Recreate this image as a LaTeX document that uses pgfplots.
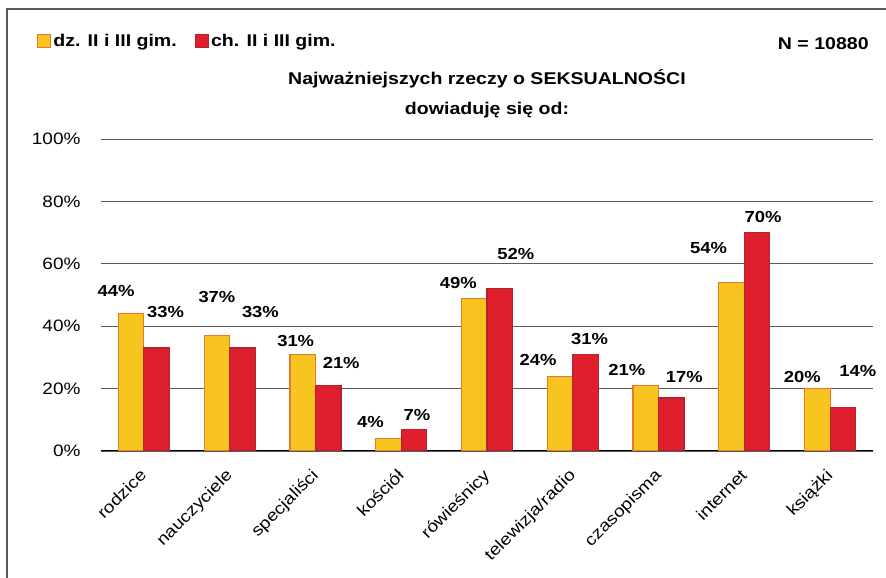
\documentclass[border=0pt]{standalone}
\usepackage{fontspec}
\setmainfont{Liberation Sans}[FakeStretch=1.15]
\usepackage{pgfplots}
\usepackage{pgfplotstable}
\pgfplotsset{compat=1.18}
\definecolor{BarYellow}{HTML}{F8C41F}
\definecolor{BarOrange}{HTML}{E8782A}
\definecolor{BarRed}{HTML}{DF1F2D}
\definecolor{BarRedEdge}{HTML}{B3222E}
\definecolor{GridGray}{HTML}{5A5A5A}

% x = category index, y = percent, dx/dy = label offset (pt) from bar top
\pgfplotstableread{
x y dx dy
0 44 -15 23
1 37 0 39
2 31 -7 13
3 4 -18 17
4 49 -16 15
5 24 -22 16
6 21 -19 16
7 54 -23 35
8 20 -15 12
}\girls
\pgfplotstableread{
x y dx dy
0 33 9 36
1 33 18 36
2 21 13 23
3 7 3 14
4 52 16 35
5 31 4 15
6 17 13 21
7 70 6 16
8 14 15 36
}\boys

\pgfplotsset{
  sqlegend/.style={legend image code/.code={\draw[##1,line width=1.3pt] (0pt,-6.5pt) rectangle (13pt,6.5pt);}},
  barlabels/.style={
    visualization depends on={\thisrow{dx} \as \dx},
    visualization depends on={\thisrow{dy} \as \dy},
    nodes near coords={\pgfmathprintnumber{\pgfplotspointmeta}\%},
    every node near coord/.append style={anchor=center, xshift=\dx*1pt, yshift=\dy*1pt,
      text=black, font=\fontsize{16}{16}\selectfont\bfseries},
  },
}

\begin{document}
\begin{tikzpicture}
\useasboundingbox (0,0) rectangle (886pt,578pt);
\begin{axis}[
  at={(101pt,127pt)}, anchor=south west,
  scale only axis, width=772pt, height=312pt,
  xmin=-0.5, xmax=8.5, ymin=0, ymax=100,
  enlargelimits=false,
  /pgf/number format/assume math mode=true,
  ybar=0pt, bar width=25.5pt,
  axis lines*=left,
  y axis line style={draw=none},
  x axis line style={black, line width=1pt},
  major tick length=0pt,
  ytick={0,20,...,100},
  yticklabel={\pgfmathprintnumber{\tick}\%},
  yticklabel style={font=\fontsize{16.5}{16.5}\selectfont, xshift=-17pt},
  ymajorgrids,
  grid style={GridGray, line width=0.9pt},
  xtick={0,...,8},
  xticklabels={rodzice, nauczyciele, specjaliści, kościół, rówieśnicy, telewizja/radio, czasopisma, internet, książki},
  xticklabel style={font=\fontsize{16.5}{16.5}\selectfont, xshift=-5pt, yshift=-12pt, rotate=45, anchor=north east},
  legend style={at={(axis description cs:-0.087,1.35)}, anchor=north west, draw=none,
    font=\fontsize{17}{17}\selectfont\bfseries, legend columns=2,
    /tikz/every even column/.append style={column sep=16pt}},
  title={Najważniejszych rzeczy o SEKSUALNOŚCI\\dowiaduję się od:},
  title style={at={(axis description cs:0.5,1.125)}, anchor=center, align=center,
    font=\fontsize{17}{30}\selectfont\bfseries},
  extra description/.code={
    \node[anchor=east, font=\fontsize{17}{17}\selectfont\bfseries] at (axis description cs:0.999,1.305) {N = 10880};
  },
]
\addplot[fill=BarYellow, draw=BarOrange, line width=1.2pt, sqlegend, barlabels] table[x=x,y=y] {\girls};
\addlegendentry{dz. II i III gim.}
\addplot[fill=BarRed, draw=BarRedEdge, line width=1.2pt, sqlegend, barlabels] table[x=x,y=y] {\boys};
\addlegendentry{ch. II i III gim.}
\end{axis}
\draw[GridGray, line width=2pt] (7pt,0pt) -- (7pt,569pt) -- (886pt,569pt);
\end{tikzpicture}
\end{document}
